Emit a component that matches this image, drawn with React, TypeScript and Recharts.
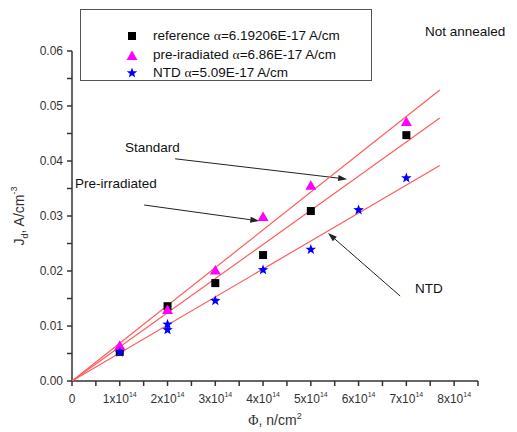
import React from "react";
import {
  ComposedChart,
  Scatter,
  XAxis,
  YAxis,
  ReferenceLine,
  ReferenceDot,
} from "recharts";

// measured points, Jd (A/cm^3) vs fluence (n/cm^2)
const referencePts = [
  { x: 1e14, y: 0.0053 },
  { x: 2e14, y: 0.0136 },
  { x: 3e14, y: 0.0178 },
  { x: 4e14, y: 0.0229 },
  { x: 5e14, y: 0.0309 },
  { x: 7e14, y: 0.0447 },
];
const preIrradiatedPts = [
  { x: 1e14, y: 0.0064 },
  { x: 2e14, y: 0.0129 },
  { x: 3e14, y: 0.0201 },
  { x: 4e14, y: 0.0298 },
  { x: 5e14, y: 0.0355 },
  { x: 7e14, y: 0.0471 },
];
const ntdPts = [
  { x: 1e14, y: 0.0052 },
  { x: 2e14, y: 0.0103 },
  { x: 2e14, y: 0.0093 },
  { x: 3e14, y: 0.0146 },
  { x: 4e14, y: 0.0202 },
  { x: 5e14, y: 0.0239 },
  { x: 6e14, y: 0.0311 },
  { x: 7e14, y: 0.0369 },
];

// linear fits through the origin
const fitPre = [
  { x: 0, y: 0 },
  { x: 7.7e14, y: 0.0529 },
];
const fitRef = [
  { x: 0, y: 0 },
  { x: 7.7e14, y: 0.0478 },
];
const fitNtd = [
  { x: 0, y: 0 },
  { x: 7.7e14, y: 0.0392 },
];

const legendItems = [
  { name: "reference", alpha: "=6.19206E-17 A/cm", marker: "square" },
  { name: "pre-iradiated", alpha: "=6.86E-17 A/cm", marker: "triangle" },
  { name: "NTD", alpha: "=5.09E-17 A/cm", marker: "star" },
];

const xTicks = Array.from({ length: 18 }, (_, i) => i * 0.5e14);
const yTicks = Array.from({ length: 13 }, (_, i) => Math.round(i * 5) / 1000);

const FONT = "'Liberation Sans', Arial, sans-serif";
const AXIS = "#333";
const FIT = "#ff5c5c";

function starPath(cx: number, cy: number, r: number) {
  const pts: string[] = [];
  for (let i = 0; i < 10; i++) {
    const rr = i % 2 === 0 ? r : r * 0.42;
    const a = -Math.PI / 2 + (i * Math.PI) / 5;
    pts.push(`${cx + rr * Math.cos(a)},${cy + rr * Math.sin(a)}`);
  }
  return pts.join(" ");
}

const SquareShape = (p: any) => (
  <rect x={p.cx - 4} y={p.cy - 4} width={8} height={8} fill="#000" />
);
const TriangleShape = (p: any) => (
  <polygon
    points={`${p.cx},${p.cy - 5.5} ${p.cx - 5.5},${p.cy + 4} ${p.cx + 5.5},${p.cy + 4}`}
    fill="#ff00ff"
  />
);
const StarShape = (p: any) => <polygon points={starPath(p.cx, p.cy, 5.5)} fill="#0000ff" />;
const NoShape = () => <g />;

function XTick({ x, y, payload }: any) {
  const v = payload.value;
  const major = Math.abs(v / 1e14 - Math.round(v / 1e14)) < 1e-6;
  const n = Math.round(v / 1e14);
  return (
    <g>
      <line x1={x} x2={x} y1={y} y2={y + 5} stroke={AXIS} strokeWidth={1.5} />
      {major && (
        <text x={x} y={y + 22} textAnchor="middle" fontSize={12} fill={AXIS} fontFamily={FONT}>
          {n === 0 ? (
            "0"
          ) : (
            <>
              {`${n}x10`}
              <tspan fontSize={7} dy={-6}>
                14
              </tspan>
            </>
          )}
        </text>
      )}
    </g>
  );
}

function YTick({ x, y, payload }: any) {
  const v = payload.value;
  const major = Math.abs(v * 100 - Math.round(v * 100)) < 1e-6;
  return (
    <g>
      <line x1={x - 5} x2={x} y1={y} y2={y} stroke={AXIS} strokeWidth={1.5} />
      {major && (
        <text x={x - 9} y={y} dy="0.35em" textAnchor="end" fontSize={12} fill={AXIS} fontFamily={FONT}>
          {v.toFixed(2)}
        </text>
      )}
    </g>
  );
}

const Arrow = (p: any) => {
  const { x1, y1, x2, y2 } = p;
  const ang = Math.atan2(y2 - y1, x2 - x1);
  const len = 9;
  const w = 3;
  const bx = x2 - len * Math.cos(ang);
  const by = y2 - len * Math.sin(ang);
  const px = -Math.sin(ang) * w;
  const py = Math.cos(ang) * w;
  return (
    <g>
      <line x1={x1} y1={y1} x2={bx} y2={by} stroke="#222" strokeWidth={1} />
      <polygon points={`${x2},${y2} ${bx + px},${by + py} ${bx - px},${by - py}`} fill="#222" />
    </g>
  );
};

const noteText = (label: string) => (p: any) => (
  <text x={p.cx} y={p.cy} dy="0.35em" fontSize={13.5} fill="#111" fontFamily={FONT}>
    {label}
  </text>
);

function LegendMarker({ kind }: { kind: string }) {
  return (
    <svg width={14} height={14} style={{ display: "block" }}>
      {kind === "square" && <SquareShape cx={7} cy={7} />}
      {kind === "triangle" && <TriangleShape cx={7} cy={8} />}
      {kind === "star" && <StarShape cx={7} cy={7} />}
    </svg>
  );
}

export default function App() {
  return (
    <div style={{ position: "relative", width: 517, height: 432, background: "#fff" }}>
      <style>{`body{margin:0}`}</style>
      <ComposedChart width={517} height={432} margin={{ top: 51, right: 39, bottom: 0, left: 0 }}>
        <XAxis
          type="number"
          dataKey="x"
          domain={[0, 8.5e14]}
          ticks={xTicks}
          interval={0}
          height={51}
          stroke={AXIS}
          strokeWidth={1.5}
          tickLine={false}
          tickSize={0}
          tickMargin={0}
          tick={<XTick />}
          label={(props: any) => {
            const vb = props.viewBox;
            return (
              <text
                x={vb.x + vb.width / 2}
                y={vb.y + 44}
                textAnchor="middle"
                fontSize={14}
                fill={AXIS}
                fontFamily={FONT}
              >
                <tspan fontFamily="'Liberation Serif', serif">Φ</tspan>
                {", n/cm"}
                <tspan fontSize={9} dy={-6}>
                  2
                </tspan>
              </text>
            );
          }}
        />
        <YAxis
          type="number"
          dataKey="y"
          domain={[0, 0.06]}
          ticks={yTicks}
          interval={0}
          width={72}
          stroke={AXIS}
          strokeWidth={1.5}
          tickLine={false}
          tickSize={0}
          tickMargin={0}
          tick={<YTick />}
          label={(props: any) => {
            const vb = props.viewBox;
            const cx = 24;
            const cy = vb.y + vb.height / 2;
            return (
              <text
                x={cx}
                y={cy}
                transform={`rotate(-90 ${cx} ${cy})`}
                textAnchor="middle"
                fontSize={14}
                fill={AXIS}
                fontFamily={FONT}
              >
                J
                <tspan fontSize={9} dy={4}>
                  d
                </tspan>
                <tspan dy={-4}>, A/cm</tspan>
                <tspan fontSize={9} dy={-7}>
                  -3
                </tspan>
              </text>
            );
          }}
        />

        <Scatter data={fitPre} line={{ stroke: FIT, strokeWidth: 1.2 }} shape={NoShape} isAnimationActive={false} />
        <Scatter data={fitRef} line={{ stroke: FIT, strokeWidth: 1.2 }} shape={NoShape} isAnimationActive={false} />
        <Scatter data={fitNtd} line={{ stroke: FIT, strokeWidth: 1.2 }} shape={NoShape} isAnimationActive={false} />

        <Scatter data={referencePts} shape={SquareShape} isAnimationActive={false} />
        <Scatter data={preIrradiatedPts} shape={TriangleShape} isAnimationActive={false} />
        <Scatter data={ntdPts} shape={StarShape} isAnimationActive={false} />

        <ReferenceLine
          segment={[
            { x: 2.16e14, y: 0.0404 },
            { x: 5.76e14, y: 0.0367 },
          ]}
          shape={Arrow}
        />
        <ReferenceLine
          segment={[
            { x: 1.51e14, y: 0.032 },
            { x: 3.92e14, y: 0.0291 },
          ]}
          shape={Arrow}
        />
        <ReferenceLine
          segment={[
            { x: 6.87e14, y: 0.01545 },
            { x: 5.36e14, y: 0.0269 },
          ]}
          shape={Arrow}
        />
        <ReferenceDot x={1.11e14} y={0.0425} shape={noteText("Standard")} />
        <ReferenceDot x={0.063e14} y={0.036} shape={noteText("Pre-irradiated")} />
        <ReferenceDot x={7.18e14} y={0.0169} shape={noteText("NTD")} />
      </ComposedChart>

      <div
        style={{
          position: "absolute",
          left: 80,
          top: 9,
          width: 292,
          height: 72,
          border: "1px solid #555",
          fontFamily: FONT,
          fontSize: 13.5,
          color: "#111",
          boxSizing: "border-box",
        }}
      >
        {legendItems.map((it, i) => (
          <div
            key={it.name}
            style={{
              position: "absolute",
              left: 44,
              top: 18 + i * 18.5,
              display: "flex",
              alignItems: "center",
              height: 16,
              whiteSpace: "nowrap",
            }}
          >
            <LegendMarker kind={it.marker} />
            <span style={{ marginLeft: 14 }}>
              {it.name} <span style={{ fontFamily: "'Liberation Serif', serif" }}>α</span>
              {it.alpha}
            </span>
          </div>
        ))}
      </div>
      <div
        style={{
          position: "absolute",
          left: 425,
          top: 24,
          fontFamily: FONT,
          fontSize: 13.5,
          color: "#111",
          whiteSpace: "nowrap",
        }}
      >
        Not annealed
      </div>
    </div>
  );
}
